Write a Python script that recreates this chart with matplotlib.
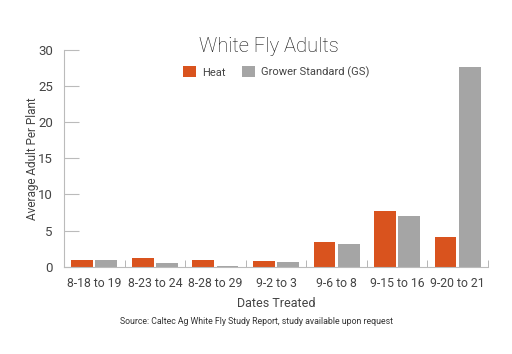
import matplotlib.pyplot as plt
import numpy as np

# data
dates = ['8-18 to 19', '8-23 to 24', '8-28 to 29', '9-2 to 3', '9-6 to 8', '9-15 to 16', '9-20 to 21']
heat = [1.0, 1.2, 1.0, 0.8, 3.4, 7.7, 4.1]
gs = [0.9, 0.5, 0.15, 0.7, 3.1, 7.05, 27.6]

plt.rcParams['font.family'] = ['Roboto', 'DejaVu Sans']

fig = plt.figure(figsize=(5.12, 3.54), dpi=100)
ax = fig.add_axes([0.125, 0.246, 0.828, 0.614])

x = np.arange(len(dates))
w = 0.36
ax.bar(x - 0.2, heat, w, color='#D9531E', label='Heat')
ax.bar(x + 0.2, gs, w, color='#A5A5A5', label='Grower Standard (GS)')

ax.set_xlim(-0.5, len(dates) - 0.5)
ax.set_ylim(0, 30)
ax.set_yticks(range(0, 31, 5))
ax.set_xticks(x)
ax.set_xticklabels(dates)
# small boundary ticks between groups
ax.set_xticks(np.arange(-0.5, len(dates)), minor=True)
ax.tick_params(axis='x', which='major', length=0, labelsize=8.8, colors='#444444', pad=7)
ax.tick_params(axis='x', which='minor', length=5, direction='in', color='#aaaaaa')
ax.tick_params(axis='y', length=11, direction='in', color='#bbbbbb', labelsize=9.5, labelcolor='#444444', pad=8)

for s in ['top', 'right']:
    ax.spines[s].set_visible(False)
for s in ['left', 'bottom']:
    ax.spines[s].set_color('#bbbbbb')

ax.set_ylabel('Average Adult Per Plant', fontsize=8.5, color='#444444', labelpad=-1)
ax.set_xlabel('Dates Treated', fontsize=9, color='#444444', labelpad=5)

fig.text(0.525, 0.852, 'White Fly Adults', ha='center', fontsize=14.5, color='#111111',
         fontweight='light')
ax.legend(loc='upper center', bbox_to_anchor=(0.5, 0.97), ncol=2, frameon=False,
          fontsize=8, handlelength=1.2, handleheight=1.2, columnspacing=1.5, handletextpad=0.5,
          labelcolor='#444444')
fig.text(0.5, 0.085, 'Source: Caltec Ag White Fly Study Report, study available upon request',
         ha='center', fontsize=6.3, color='#333333')

plt.savefig('out.png', dpi=100)
